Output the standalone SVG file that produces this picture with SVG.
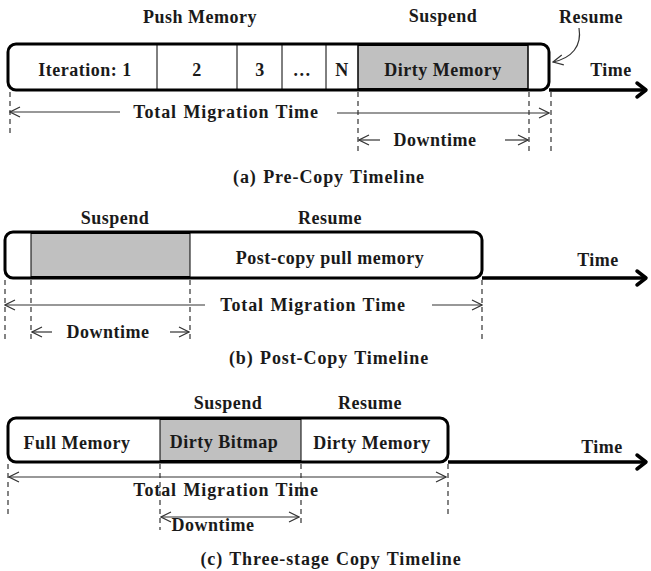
<svg xmlns="http://www.w3.org/2000/svg" width="651" height="571" viewBox="0 0 651 571">
  <style>
    text { font-family: "Liberation Serif", "Times New Roman", serif; font-weight: bold; font-size: 18px; letter-spacing: 0.5px; fill: #1a1a1a; text-anchor: middle; dominant-baseline: central; }
    text.wide { letter-spacing: 0.9px; word-spacing: 1px; }
    .box { fill: #ffffff; stroke: #000; stroke-width: 3; }
    .grey { fill: #c0c0c0; stroke: #000; stroke-width: 1; }
    .div { stroke: #000; stroke-width: 1; }
    .axis { stroke: #000; stroke-width: 3.5; fill: none; }
    .head { stroke: #000; stroke-width: 3.5; fill: none; stroke-linecap: round; stroke-linejoin: round; }
    .dim { stroke: #333; stroke-width: 1.2; fill: none; }
    .dash { stroke: #333; stroke-width: 1.2; stroke-dasharray: 5 4; fill: none; }
  </style>
  <defs>
    <marker id="open" viewBox="0 0 12 12" refX="11" refY="6" markerWidth="12" markerHeight="12" markerUnits="userSpaceOnUse" orient="auto-start-reverse">
      <path d="M1,1 L11,6 L1,11" fill="none" stroke="#333" stroke-width="1.2"/>
    </marker>
  </defs>

  <!-- (a) Pre-copy -->
  <g id="precopy">
    <text x="200" y="17">Push Memory</text>
    <text x="443" y="16">Suspend</text>
    <text x="591" y="17">Resume</text>
    <text x="611" y="70">Time</text>
    <rect class="box" x="8" y="44" width="541" height="46" rx="8"/>
    <rect class="grey" x="358" y="45.5" width="170" height="43"/>
    <line class="div" x1="157" y1="45" x2="157" y2="89"/>
    <line class="div" x1="237" y1="45" x2="237" y2="89"/>
    <line class="div" x1="282" y1="45" x2="282" y2="89"/>
    <line class="div" x1="326" y1="45" x2="326" y2="89"/>
    <line class="div" x1="358" y1="45" x2="358" y2="89"/>
    <line class="div" x1="528" y1="45" x2="528" y2="89"/>
    <text x="85" y="70">Iteration: 1</text>
    <text x="197" y="70">2</text>
    <text x="260" y="70">3</text>
    <text x="302" y="70">…</text>
    <text x="342" y="70">N</text>
    <text x="443" y="70">Dirty Memory</text>
    <text class="wide" x="329" y="177">(a) Pre-Copy Timeline</text>
  </g>

  <!-- (b) Post-copy -->
  <g id="postcopy">
    <text x="115" y="218">Suspend</text>
    <text x="330" y="218">Resume</text>
    <text x="598" y="260">Time</text>
    <rect class="box" x="5" y="232" width="477" height="46" rx="8"/>
    <rect class="grey" x="31" y="233.5" width="159" height="43"/>
    <text x="330" y="258">Post-copy pull memory</text>
    <text class="wide" x="329" y="358">(b) Post-Copy Timeline</text>
  </g>

  <!-- (c) Three-stage copy -->
  <g id="threestage">
    <text x="228" y="403">Suspend</text>
    <text x="370" y="403">Resume</text>
    <text x="602" y="447">Time</text>
    <rect class="box" x="8" y="418" width="440" height="44" rx="8"/>
    <rect class="grey" x="160" y="419.5" width="141" height="41"/>
    <text x="77" y="443">Full Memory</text>
    <text x="224" y="442">Dirty Bitmap</text>
    <text x="372" y="443">Dirty Memory</text>
    <text class="wide" x="331" y="559">(c) Three-stage Copy Timeline</text>
  </g>

  <g id="connectors">
    <!-- time axes -->
    <line class="axis" x1="549" y1="90" x2="645" y2="90"/>
    <polyline class="head" points="637,83 646,90 637,97"/>
    <line class="axis" x1="482" y1="278" x2="645" y2="278"/>
    <polyline class="head" points="637,271 646,278 637,285"/>
    <line class="axis" x1="448" y1="462" x2="645" y2="462"/>
    <polyline class="head" points="637,455 646,462 637,469"/>

    <!-- resume pointer -->
    <path class="dim" d="M579,28 C582,46 572,58 553,62" marker-end="url(#open)"/>

    <!-- (a) dimensions -->
    <line class="dash" x1="10" y1="92" x2="10" y2="137"/>
    <line class="dash" x1="358" y1="92" x2="358" y2="155"/>
    <line class="dash" x1="529" y1="92" x2="529" y2="155"/>
    <line class="dash" x1="551" y1="92" x2="551" y2="155"/>
    <line class="dim" x1="120" y1="112" x2="10" y2="112" marker-end="url(#open)"/>
    <text class="wide" x="226" y="112">Total Migration Time</text>
    <line class="dim" x1="337" y1="113" x2="549" y2="113" marker-end="url(#open)"/>
    <line class="dim" x1="380" y1="140" x2="359" y2="140" marker-end="url(#open)"/>
    <text x="435" y="140">Downtime</text>
    <line class="dim" x1="505" y1="140" x2="528" y2="140" marker-end="url(#open)"/>

    <!-- (b) dimensions -->
    <line class="dash" x1="5" y1="280" x2="5" y2="342"/>
    <line class="dash" x1="31" y1="280" x2="31" y2="342"/>
    <line class="dash" x1="190" y1="280" x2="190" y2="342"/>
    <line class="dash" x1="482" y1="280" x2="482" y2="342"/>
    <line class="dim" x1="205" y1="305" x2="5" y2="305" marker-end="url(#open)"/>
    <text class="wide" x="313" y="305">Total Migration Time</text>
    <line class="dim" x1="432" y1="305" x2="482" y2="305" marker-end="url(#open)"/>
    <line class="dim" x1="52" y1="332" x2="32" y2="332" marker-end="url(#open)"/>
    <text x="108" y="332">Downtime</text>
    <line class="dim" x1="170" y1="332" x2="189" y2="332" marker-end="url(#open)"/>

    <!-- (c) dimensions -->
    <line class="dash" x1="8" y1="464" x2="8" y2="517"/>
    <line class="dash" x1="160" y1="464" x2="160" y2="530"/>
    <line class="dash" x1="301" y1="464" x2="301" y2="527"/>
    <line class="dash" x1="448" y1="464" x2="448" y2="515"/>
    <line class="dim" x1="9" y1="477" x2="446" y2="477" marker-start="url(#open)" marker-end="url(#open)"/>
    <text class="wide" x="226" y="490">Total Migration Time</text>
    <line class="dim" x1="161" y1="517" x2="299" y2="517" marker-start="url(#open)" marker-end="url(#open)"/>
    <text x="213" y="525">Downtime</text>
  </g>
</svg>
